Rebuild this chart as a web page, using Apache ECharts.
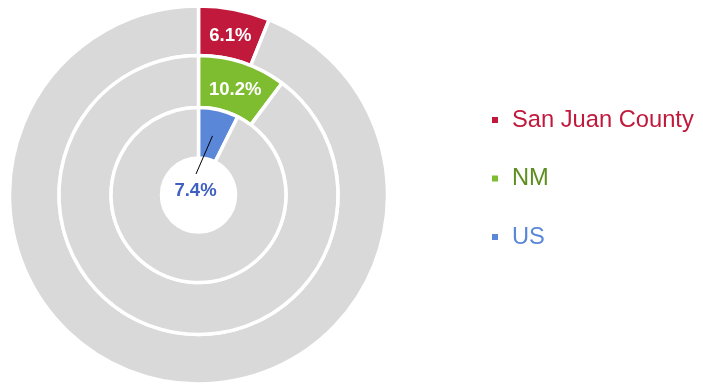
<!DOCTYPE html>
<html>
<head>
<meta charset="utf-8">
<script src="https://cdn.jsdelivr.net/npm/echarts@6/dist/echarts.min.js"></script>
<style>
  html, body { margin: 0; padding: 0; background: #fff; }
  #chart { width: 703px; height: 386px; }
</style>
</head>
<body>
<div id="chart"></div>
<script>
// Share values (percent) for each ring, outer to inner
const regions = ['San Juan County', 'NM', 'US'];
const shares = [6.1, 10.2, 7.4];
const ringColors = ['#C0193B', '#7DBD2F', '#5B87D9'];
const legendColors = ['#C0193B', '#5E8E1F', '#5B87D9'];
const restColor = '#D9D9D9';

const center = [198.5, 195];
const ringRadii = [[139.5, 189], [87.5, 139.5], [37, 87.5]];
const FONT = '"Liberation Sans", Arial, sans-serif';

const chart = echarts.init(document.getElementById('chart'), null, { renderer: 'canvas' });

// Percentage label text
const pct = (p) => p.value.toFixed(1) + '%';

// One doughnut ring: the share plus the grey remainder
function ringSeries(i) {
  const isInner = i === regions.length - 1;
  return {
    type: 'pie',
    name: regions[i],
    center: center,
    radius: ringRadii[i],
    startAngle: 90,
    clockwise: true,
    animation: false,
    silent: true,
    avoidLabelOverlap: false,
    itemStyle: { borderColor: '#ffffff', borderWidth: 3.5 },
    emphasis: { disabled: true },
    labelLine: { show: false },
    labelLayout: { dy: 5 },
    data: [
      {
        name: regions[i],
        value: shares[i],
        itemStyle: { color: ringColors[i] },
        label: {
          show: !isInner,
          position: 'inside',
          formatter: pct,
          color: '#ffffff',
          fontFamily: FONT,
          fontWeight: 'bold',
          fontSize: 18.5
        }
      },
      {
        name: 'rest',
        value: +(100 - shares[i]).toFixed(1),
        itemStyle: { color: restColor },
        label: { show: false }
      }
    ]
  };
}

// Transparent copy of the inner ring that carries its callout label above the sectors
function innerCallout() {
  const i = regions.length - 1;
  return {
    type: 'pie',
    name: regions[i] + ' label',
    center: center,
    radius: ringRadii[i],
    startAngle: 90,
    clockwise: true,
    animation: false,
    silent: true,
    z: 5,
    avoidLabelOverlap: false,
    itemStyle: { color: 'rgba(0,0,0,0)', borderWidth: 0 },
    emphasis: { disabled: true },
    labelLine: {
      show: true,
      length: 5, length2: 5,
      lineStyle: { color: '#000000', width: 1 }
    },
    labelLayout: function (params) {
      if (params.dataIndex !== 0) return {};
      // anchor in the middle of the sector, label sits inside the hole
      const half = (shares[i] / 100) * Math.PI;
      const rMid = (ringRadii[i][0] + ringRadii[i][1]) / 2 - 1.5;
      const ax = center[0] + rMid * Math.sin(half);
      const ay = center[1] - rMid * Math.cos(half);
      const lx = center[0] - 3;
      const ly = center[1] - 4;
      return {
        x: lx, y: ly, align: 'center', verticalAlign: 'middle',
        labelLinePoints: [[ax, ay], [lx + 0.5, ly - 17], [lx + 0.5, ly - 17]]
      };
    },
    data: [
      {
        name: regions[i],
        value: shares[i],
        label: {
          show: true,
          position: 'outside',
          formatter: pct,
          color: '#3F60C0',
          fontFamily: FONT,
          fontWeight: 'bold',
          fontSize: 18.5
        }
      },
      {
        name: 'rest',
        value: +(100 - shares[i]).toFixed(1),
        label: { show: false },
        labelLine: { show: false }
      }
    ]
  };
}

const option = {
  backgroundColor: '#ffffff',
  legend: {
    orient: 'vertical',
    left: 487,
    top: 103,
    icon: 'rect',
    itemWidth: 6,
    itemHeight: 6,
    itemGap: 34.5,
    selectedMode: false,
    data: regions.map((r, k) => ({
      name: r,
      itemStyle: { color: ringColors[k], borderWidth: 0 },
      textStyle: {
        color: legendColors[k],
        fontFamily: FONT,
        fontSize: 23.7,
        lineHeight: 24,
        padding: [0, 0, 0, 9]
      }
    }))
  },
  series: regions.map((_, i) => ringSeries(i)).concat([innerCallout()])
};

chart.setOption(option);
</script>
</body>
</html>
